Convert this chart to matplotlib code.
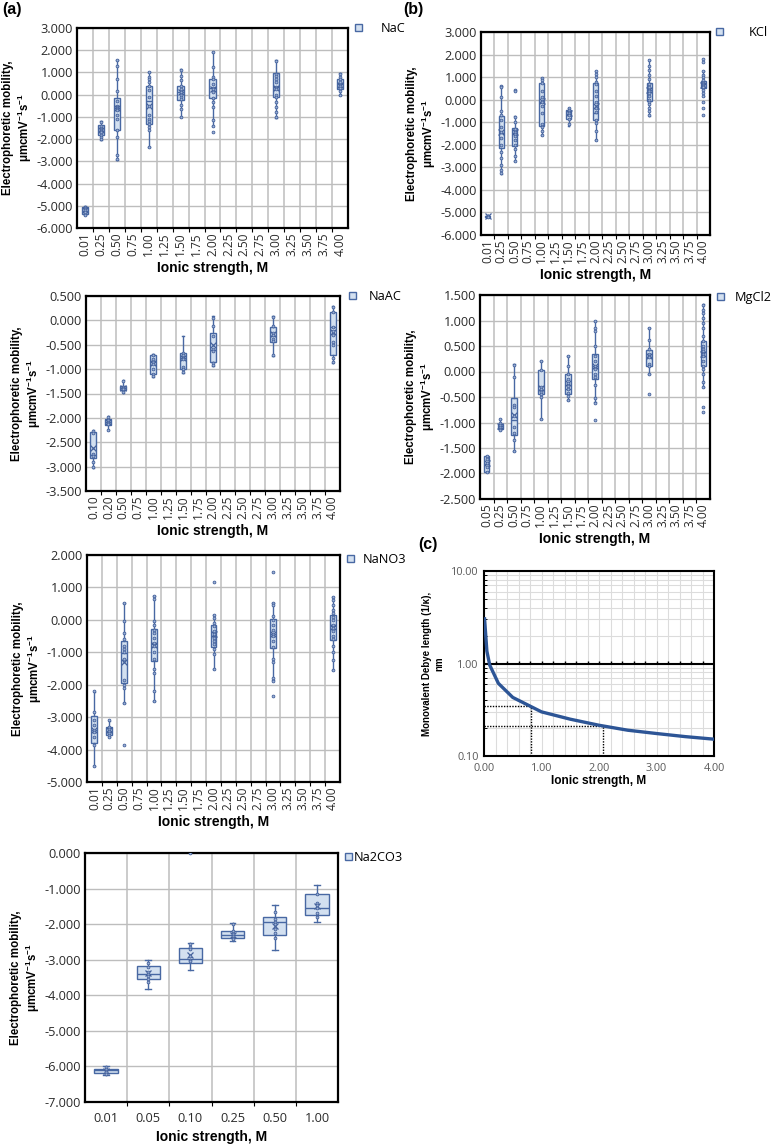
import numpy as np
import matplotlib
matplotlib.use('Agg')
import matplotlib.pyplot as plt
from matplotlib.patches import Patch
from matplotlib.ticker import MultipleLocator, FormatStrFormatter, NullFormatter, LogLocator

plt.rcParams['axes.unicode_minus'] = False
plt.rcParams['font.family'] = ['Open Sans', 'DejaVu Sans']
plt.rcParams['mathtext.fontset'] = 'custom'
plt.rcParams['mathtext.bf'] = 'Liberation Sans:bold'
plt.rcParams['mathtext.rm'] = 'Liberation Sans:bold'
plt.rcParams['mathtext.default'] = 'bf'

# ---------------- category axes ----------------
axis_nac = ['0.01', '0.25', '0.50', '0.75', '1.00', '1.25', '1.50', '1.75', '2.00',
            '2.25', '2.50', '2.75', '3.00', '3.25', '3.50', '3.75', '4.00']
axis_naac = ['0.10', '0.20', '0.50', '0.75', '1.00', '1.25', '1.50', '1.75', '2.00',
             '2.25', '2.50', '2.75', '3.00', '3.25', '3.50', '3.75', '4.00']
axis_mgcl2 = ['0.05', '0.25', '0.50', '0.75', '1.00', '1.25', '1.50', '1.75', '2.00',
              '2.25', '2.50', '2.75', '3.00', '3.25', '3.50', '3.75', '4.00']
axis_na2co3 = ['0.01', '0.05', '0.10', '0.25', '0.50', '1.00']

# ---------------- NaC ----------------
nac_cats = ['0.01', '0.25', '0.50', '1.00', '1.50', '2.00', '3.00', '4.00']
nac_q1 = [-5.38, -1.82, -1.57, -1.30, -0.22, -0.15, -0.10, 0.27]
nac_med = [-5.25, -1.62, -0.60, -0.30, 0.10, 0.28, 0.35, 0.48]
nac_q3 = [-5.05, -1.38, -0.15, 0.37, 0.37, 0.72, 0.97, 0.70]
nac_lo = [-5.42, -2.05, -2.94, -2.35, -1.00, -1.39, -1.03, -0.03]
nac_hi = [-5.00, -1.18, 1.57, 1.00, 1.15, 1.94, 1.54, 0.97]
nac_mean = [-5.18, -1.60, -0.62, -0.50, 0.12, 0.25, 0.32, 0.45]
nac_pts = [
    [-5.05, -5.1, -5.15, -5.2, -5.3, -5.4],
    [-1.25, -1.4, -1.5, -1.55, -1.6, -1.65, -1.7, -1.8, -1.9, -2.0],
    [1.55, 1.3, 0.7, 0.15, -0.3, -0.5, -0.55, -0.6, -0.65, -0.7, -0.9, -1.1, -1.6, -1.9, -2.7, -2.9],
    [1.0, 0.8, 0.7, 0.55, 0.4, 0.2, -0.1, -0.5, -0.9, -1.1, -1.2, -1.3, -1.45, -1.6, -2.35],
    [1.1, 0.85, 0.65, 0.4, 0.25, 0.1, 0.0, -0.1, -0.2, -0.45, -0.65, -1.0],
    [1.9, 1.25, 0.8, 0.7, 0.5, 0.3, 0.25, 0.1, -0.15, -0.35, -0.55, -1.15, -1.4, -1.7],
    [1.5, 0.95, 0.85, 0.7, 0.55, 0.35, 0.3, 0.25, 0.0, -0.1, -0.35, -0.55, -0.8, -1.0],
    [0.95, 0.8, 0.7, 0.55, 0.45, 0.4, 0.3, 0.15, 0.0],
]

# ---------------- KCl ----------------
kcl_cats = ['0.01', '0.25', '0.50', '1.00', '1.50', '2.00', '3.00', '4.00']
kcl_q1 = [-5.18, -2.14, -2.06, -1.15, -0.87, -0.90, -0.07, 0.52]
kcl_med = [-5.16, -1.49, -1.49, -0.09, -0.63, -0.59, 0.43, 0.69]
kcl_q3 = [-5.14, -0.74, -1.27, 0.74, -0.44, 0.72, 0.72, 0.84]
kcl_lo = [-5.19, -3.29, -2.70, -1.56, -1.15, -1.81, -0.71, 0.18]
kcl_hi = [-5.13, 0.62, -0.74, 0.94, -0.35, 1.28, 1.77, 1.25]
kcl_mean = [-5.16, -1.45, -1.45, -0.05, -0.58, -0.30, 0.45, 0.65]
kcl_pts = [
    [-5.14, -5.16, -5.18],
    [0.6, 0.55, 0.1, -0.5, -0.7, -0.9, -1.2, -1.45, -1.7, -2.0, -2.3, -2.6, -2.9, -3.1, -3.25],
    [0.45, 0.4, -0.75, -1.0, -1.3, -1.45, -1.5, -1.6, -1.8, -2.0, -2.2, -2.5, -2.7],
    [0.95, 0.85, 0.75, 0.4, 0.1, -0.05, -0.1, -0.3, -0.6, -1.1, -1.2, -1.4, -1.55],
    [-0.35, -0.45, -0.55, -0.6, -0.7, -0.85, -1.1],
    [1.28, 1.15, 1.0, 0.8, 0.7, 0.4, 0.15, -0.1, -0.35, -0.55, -0.9, -1.05, -1.4, -1.8],
    [1.75, 1.5, 1.3, 1.1, 0.9, 0.7, 0.55, 0.45, 0.4, 0.3, 0.15, 0.0, -0.1, -0.2, -0.35, -0.5, -0.7],
    [1.8, 1.65, 1.25, 1.1, 1.0, 0.85, 0.75, 0.7, 0.65, 0.6, 0.55, 0.45, 0.3, 0.18, -0.12, -0.37, -0.7],
]

# ---------------- NaAC ----------------
naac_cats = ['0.10', '0.20', '0.50', '1.00', '1.50', '2.00', '3.00', '4.00']
naac_q1 = [-2.82, -2.14, -1.42, -1.09, -0.99, -0.85, -0.45, -0.70]
naac_med = [-2.77, -2.09, -1.38, -0.85, -0.77, -0.60, -0.33, -0.13]
naac_q3 = [-2.29, -2.03, -1.35, -0.72, -0.66, -0.25, -0.14, 0.18]
naac_lo = [-3.02, -2.24, -1.48, -1.17, -1.08, -0.94, -0.73, -0.88]
naac_hi = [-2.24, -1.97, -1.23, -0.69, -0.32, 0.08, 0.09, 0.29]
naac_mean = [-2.61, -2.09, -1.38, -0.87, -0.78, -0.50, -0.27, -0.23]
naac_pts = [
    [-2.27, -2.32, -2.75, -2.78, -2.9, -3.0],
    [-1.98, -2.05, -2.08, -2.1, -2.12, -2.24],
    [-1.25, -1.36, -1.38, -1.4, -1.46],
    [-0.7, -0.8, -0.86, -0.9, -1.0, -1.1, -1.15],
    [-0.66, -0.7, -0.78, -0.8, -0.95, -1.0, -1.05],
    [0.05, -0.12, -0.33, -0.58, -0.62, -0.87, -0.92],
    [0.06, -0.12, -0.25, -0.3, -0.38, -0.42, -0.72],
    [0.27, 0.18, -0.13, -0.22, -0.3, -0.45, -0.5, -0.78, -0.85],
]

# ---------------- MgCl2 ----------------
mgcl2_cats = ['0.05', '0.25', '0.50', '1.00', '1.50', '2.00', '3.00', '4.00']
mgcl2_q1 = [-1.98, -1.12, -1.24, -0.45, -0.45, -0.14, 0.10, 0.10]
mgcl2_med = [-1.81, -1.06, -0.95, -0.36, -0.35, 0.10, 0.29, 0.39]
mgcl2_q3 = [-1.65, -1.02, -0.52, 0.03, -0.05, 0.35, 0.43, 0.60]
mgcl2_lo = [-1.98, -1.14, -1.56, -0.93, -0.56, -0.60, -0.05, -0.31]
mgcl2_hi = [-1.65, -0.93, 0.14, 0.21, 0.30, 1.00, 0.85, 1.32]
mgcl2_mean = [-1.80, -1.06, -0.85, -0.32, -0.22, 0.10, 0.30, 0.35]
mgcl2_pts = [
    [-1.65, -1.72, -1.8, -1.88, -1.97],
    [-0.93, -1.0, -1.05, -1.08, -1.12, -1.14],
    [0.12, -0.1, -0.65, -0.7, -0.88, -1.08, -1.2, -1.35, -1.55],
    [0.2, 0.02, -0.3, -0.35, -0.4, -0.45, -0.5, -0.93],
    [0.3, 0.1, -0.05, -0.15, -0.22, -0.28, -0.35, -0.42, -0.48, -0.55],
    [1.0, 0.85, 0.8, 0.5, 0.3, 0.2, 0.1, 0.05, -0.05, -0.1, -0.27, -0.52, -0.62, -0.95],
    [0.85, 0.62, 0.45, 0.35, 0.3, 0.28, 0.15, 0.1, -0.05, -0.44],
    [1.3, 1.2, 1.15, 1.05, 0.95, 0.85, 0.7, 0.6, 0.5, 0.45, 0.4, 0.35, 0.3, 0.2, 0.1, 0.05,
     -0.05, -0.2, -0.3, -0.7, -0.8],
]

# ---------------- NaNO3 ----------------
nano3_cats = ['0.01', '0.25', '0.50', '1.00', '2.00', '3.00', '4.00']
nano3_q1 = [-3.80, -3.54, -1.95, -1.27, -0.83, -0.86, -0.62]
nano3_med = [-3.39, -3.42, -1.03, -0.73, -0.51, -0.45, -0.20]
nano3_q3 = [-2.98, -3.29, -0.66, -0.28, -0.16, 0.02, 0.16]
nano3_lo = [-4.50, -3.60, -2.57, -2.50, -1.52, -1.85, -1.54]
nano3_hi = [-2.22, -3.11, 0.53, 0.74, 0.16, 0.53, 0.72]
nano3_mean = [-3.40, -3.40, -1.31, -0.78, -0.45, -0.45, -0.22]
nano3_pts = [
    [-2.2, -2.85, -3.1, -3.25, -3.4, -3.45, -3.6, -3.85, -4.5],
    [-3.1, -3.3, -3.38, -3.42, -3.48, -3.55, -3.6],
    [0.53, -0.05, -0.4, -0.6, -0.8, -0.9, -1.0, -1.2, -1.85, -2.0, -2.1, -2.57, -3.86],
    [0.74, 0.65, -0.05, -0.15, -0.3, -0.4, -0.55, -0.7, -0.8, -1.0, -1.2, -1.5, -1.65, -2.2, -2.5],
    [1.17, 0.15, 0.05, -0.1, -0.2, -0.35, -0.45, -0.55, -0.65, -0.75, -0.9, -1.05, -1.5],
    [1.48, 0.53, 0.45, 0.12, 0.0, -0.15, -0.3, -0.45, -0.5, -0.65, -0.85, -1.2, -1.3, -1.8, -1.9, -2.34],
    [0.7, 0.6, 0.45, 0.3, 0.2, 0.1, 0.0, -0.15, -0.25, -0.35, -0.5, -0.6, -0.8, -1.0, -1.25, -1.54],
]

# ---------------- Na2CO3 ----------------
na2co3_cats = ['0.01', '0.05', '0.10', '0.25', '0.50', '1.00']
na2co3_q1 = [-6.18, -3.53, -3.08, -2.39, -2.30, -1.75]
na2co3_med = [-6.11, -3.41, -2.97, -2.31, -1.94, -1.54]
na2co3_q3 = [-6.06, -3.19, -2.66, -2.19, -1.80, -1.16]
na2co3_lo = [-6.25, -3.81, -3.28, -2.46, -2.74, -1.94]
na2co3_hi = [-6.00, -3.00, -2.52, -1.97, -1.47, -0.90]
na2co3_mean = [-6.12, -3.38, -2.88, -2.30, -2.05, -1.50]
na2co3_pts = [
    [-6.02, -6.08, -6.12, -6.15, -6.2],
    [-3.1, -3.2, -3.35, -3.4, -3.45, -3.55, -3.62],
    [0.0, -2.55, -2.65, -2.7, -2.9, -3.0, -3.05],
    [-2.0, -2.2, -2.28, -2.32, -2.38, -2.42],
    [-1.65, -1.85, -1.95, -2.0, -2.15, -2.25, -2.4],
    [-1.15, -1.4, -1.45, -1.55, -1.7, -1.8],
]

# ---------------- Debye length ----------------
debye_I = [0.01, 0.05, 0.10, 0.25, 0.50, 1.00, 1.50, 2.00, 2.50, 3.00, 3.50, 4.00]
debye_len = [3.04, 1.36, 0.96, 0.61, 0.43, 0.30, 0.25, 0.215, 0.19, 0.175, 0.162, 0.152]
ref_I = [0.81, 2.07]
ref_len = [0.345, 0.211]

# ---------------- drawing ----------------
W, H = 772, 1147
fig = plt.figure(figsize=(W / 100, H / 100), dpi=100)

BOX_FACE = '#d3e0f0'
BOX_EDGE = '#4868a3'
PT_EDGE = '#45629c'
PT_FACE = '#9db2d6'
GRID = '#bdbdbd'
TICKC = '#2b2b2b'
BOLD = dict(family='Liberation Sans', weight='bold')
YLABEL = 'Electrophoretic mobility,\n\u03bcmcmV$^{-1}$s$^{-1}$'


def rect(l, t, r, b):
    return [l / W, 1 - b / H, (r - l) / W, (b - t) / H]


def box_panel(px, axis_labels, cats, q1, med, q3, lo, hi, mean, pts, ylim, ystep,
              name, leg_xy, textpad, width=0.4, rotate=True):
    ax = fig.add_axes(rect(*px))
    pos = [axis_labels.index(c) for c in cats]
    stats = [dict(med=m, q1=a, q3=b, whislo=l, whishi=h, mean=mu, fliers=[])
             for a, m, b, l, h, mu in zip(q1, med, q3, lo, hi, mean)]
    ax.bxp(stats, positions=pos, widths=width, patch_artist=True, showmeans=True,
           showcaps=True, capwidths=width * 0.25, showfliers=False,
           boxprops=dict(facecolor=BOX_FACE, edgecolor=BOX_EDGE, linewidth=1.0),
           medianprops=dict(color=BOX_EDGE, linewidth=1.0),
           whiskerprops=dict(color=BOX_EDGE, linewidth=1.0),
           capprops=dict(color=BOX_EDGE, linewidth=1.0),
           meanprops=dict(marker='x', markeredgecolor=PT_EDGE, markersize=4.5,
                          markeredgewidth=0.9))
    for p, vals in zip(pos, pts):
        ax.plot([p] * len(vals), vals, 'o', ms=2.0, mfc=PT_FACE, mec=PT_EDGE, mew=0.6,
                ls='none', zorder=4)
    n = len(axis_labels)
    ax.set_xlim(-0.5, n - 0.5)
    ax.set_ylim(*ylim)
    ax.set_xticks(range(n))
    ax.set_xticklabels(axis_labels, rotation=90 if rotate else 0,
                       fontsize=8.6 if rotate else 9.2, color=TICKC)
    ax.set_xticks(np.arange(0.5, n - 1, 1.0), minor=True)
    ax.yaxis.set_major_locator(MultipleLocator(ystep))
    ax.yaxis.set_major_formatter(FormatStrFormatter('%.3f'))
    ax.tick_params(axis='y', labelsize=9.2, labelcolor=TICKC, length=0, pad=3)
    ax.grid(axis='y', which='major', color=GRID, lw=1.0)
    ax.grid(axis='x', which='minor', color=GRID, lw=1.1)
    ax.set_axisbelow(True)
    ax.tick_params(axis='x', which='major', length=0, pad=3 if rotate else 7)
    ax.tick_params(axis='x', which='minor', length=3, width=0.8, direction='out')
    for s in ax.spines.values():
        s.set_linewidth(1.6)
        s.set_color('black')
    ax.set_ylabel(YLABEL, fontsize=8.3, labelpad=2, linespacing=1.1, **BOLD)
    ax.set_xlabel('Ionic strength, M', fontsize=10, labelpad=4, **BOLD)
    ax.legend(handles=[Patch(facecolor=BOX_FACE, edgecolor=BOX_EDGE, label=name)],
              loc='upper left', bbox_to_anchor=(leg_xy[0] / W, 1 - leg_xy[1] / H),
              bbox_transform=fig.transFigure, frameon=False, handlelength=0.55,
              handleheight=0.55, handletextpad=textpad, borderaxespad=0, borderpad=0,
              prop=dict(family='Open Sans', size=9.2))
    return ax


box_panel((77, 28, 348, 228), axis_nac, nac_cats, nac_q1, nac_med, nac_q3, nac_lo, nac_hi,
          nac_mean, nac_pts, (-6, 3), 1.0, 'NaC', (355, 22), 1.5)
box_panel((481, 32, 710, 235), axis_nac, kcl_cats, kcl_q1, kcl_med, kcl_q3, kcl_lo, kcl_hi,
          kcl_mean, kcl_pts, (-6, 3), 1.0, 'KCl', (716, 26), 2.0)
box_panel((86, 296, 340, 491), axis_naac, naac_cats, naac_q1, naac_med, naac_q3, naac_lo,
          naac_hi, naac_mean, naac_pts, (-3.5, 0.5), 0.5, 'NaAC', (349, 290), 1.0)
box_panel((480, 295, 710, 499), axis_mgcl2, mgcl2_cats, mgcl2_q1, mgcl2_med, mgcl2_q3,
          mgcl2_lo, mgcl2_hi, mgcl2_mean, mgcl2_pts, (-2.5, 1.5), 0.5, 'MgCl2', (717, 291), 0.8)
box_panel((87, 555, 340, 782), axis_nac, nano3_cats, nano3_q1, nano3_med, nano3_q3, nano3_lo,
          nano3_hi, nano3_mean, nano3_pts, (-5, 2), 1.0, 'NaNO3', (347, 553), 0.7)
box_panel((85, 853, 338, 1102), axis_na2co3, na2co3_cats, na2co3_q1, na2co3_med, na2co3_q3,
          na2co3_lo, na2co3_hi, na2co3_mean, na2co3_pts, (-7, 0), 1.0, 'Na2CO3', (345, 851),
          0.15, width=0.55, rotate=False)

# ---------------- (c) Debye length panel ----------------
axd = fig.add_axes(rect(484, 571, 714, 756))
axd.set_yscale('log')
axd.set_xlim(0, 4)
axd.set_ylim(0.1, 10)
axd.xaxis.set_major_locator(MultipleLocator(1.0))
axd.xaxis.set_minor_locator(MultipleLocator(0.2))
axd.xaxis.set_major_formatter(FormatStrFormatter('%.2f'))
axd.yaxis.set_major_locator(LogLocator(base=10))
axd.yaxis.set_minor_locator(LogLocator(base=10, subs=np.arange(2, 10)))
axd.yaxis.set_major_formatter(FormatStrFormatter('%.2f'))
axd.yaxis.set_minor_formatter(NullFormatter())
axd.grid(which='both', color='#dcdcdc', lw=0.8)
axd.set_axisbelow(True)
axd.tick_params(axis='both', which='both', labelsize=7.8, labelcolor='#595959')
axd.tick_params(axis='x', which='both', length=0, pad=5)
axd.tick_params(axis='y', which='major', length=0, pad=4)
axd.tick_params(axis='y', which='minor', length=2.5, direction='in', width=0.7)
for s in axd.spines.values():
    s.set_linewidth(1.5)
    s.set_color('black')
axd.axhline(1.0, color='black', lw=1.5, zorder=3)
axd.vlines(np.arange(0.2, 4.0, 0.2), 1.0, 1.06, color='black', lw=1.0, zorder=3)
axd.plot(debye_I, debye_len, color='#2d5596', lw=2.4, zorder=4)
for xi, yi in zip(ref_I, ref_len):
    axd.plot([0, xi], [yi, yi], ls=(0, (1, 1)), color='black', lw=1.0, zorder=3)
    axd.plot([xi, xi], [0.1, yi], ls=(0, (1, 1)), color='black', lw=1.0, zorder=3)
axd.set_xlabel('Ionic strength, M', fontsize=8.6, labelpad=1, **BOLD)
axd.set_ylabel('Monovalent Debye length (1/\u03ba),\nnm', fontsize=7.0, labelpad=5, **BOLD)

# ---------------- panel letters ----------------
fig.text(2 / W, 1 - 2 / H, '(a)', fontsize=11.5, va='top', ha='left', **BOLD)
fig.text(403 / W, 1 - 2 / H, '(b)', fontsize=11.5, va='top', ha='left', **BOLD)
fig.text(418 / W, 1 - 537 / H, '(c)', fontsize=11.5, va='top', ha='left', **BOLD)

fig.savefig('out.png', dpi=100)
